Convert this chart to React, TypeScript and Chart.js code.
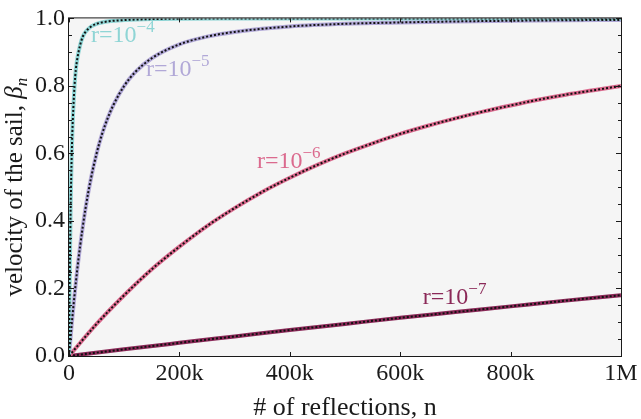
import React, { useEffect, useRef } from 'react';
import { Chart, registerables } from 'chart.js';

Chart.register(...registerables);

const FONT = "'Liberation Serif', 'Times New Roman', serif";

// Tick labels
const xTickLabels = ['0', '200k', '400k', '600k', '800k', '1M'];
const yTickLabels = ['0.0', '0.2', '0.4', '0.6', '0.8', '1.0'];

// r = 1e-4
const nR4 = [0, 1000, 2000, 3000, 4000, 5000, 6000, 8000, 10000, 12500, 15000, 20000, 25000, 30000, 40000, 50000, 75000, 100000, 150000, 200000, 300000, 500000, 1000000];
const betaR4 = [0, 0.18, 0.32, 0.44, 0.53, 0.6, 0.66, 0.74, 0.8, 0.85, 0.88, 0.92, 0.946, 0.96, 0.976, 0.984, 0.992, 0.995, 0.998, 0.999, 0.9995, 0.9998, 1.0];

// r = 1e-5
const nR5 = [0, 5000, 10000, 15000, 20000, 30000, 40000, 50000, 60000, 70000, 80000, 100000, 120000, 150000, 200000, 250000, 300000, 400000, 500000, 600000, 700000, 800000, 900000, 1000000];
const betaR5 = [0, 0.095, 0.18, 0.257, 0.324, 0.438, 0.528, 0.6, 0.658, 0.704, 0.742, 0.8, 0.841, 0.882, 0.923, 0.946, 0.96, 0.976, 0.984, 0.988, 0.991, 0.993, 0.9945, 0.9955];

// r = 1e-6
const nR6 = [0, 50000, 100000, 150000, 200000, 250000, 300000, 350000, 400000, 450000, 500000, 550000, 600000, 650000, 700000, 750000, 800000, 850000, 900000, 950000, 1000000];
const betaR6 = [0, 0.095, 0.18, 0.257, 0.324, 0.385, 0.438, 0.486, 0.528, 0.566, 0.6, 0.63, 0.658, 0.682, 0.704, 0.724, 0.742, 0.759, 0.774, 0.787, 0.8];

// r = 1e-7
const nR7 = [0, 100000, 200000, 300000, 400000, 500000, 600000, 700000, 800000, 900000, 1000000];
const betaR7 = [0, 0.0198, 0.039, 0.058, 0.077, 0.095, 0.113, 0.13, 0.147, 0.164, 0.18];

const seriesExp = ['−4', '−5', '−6', '−7'];
const seriesColors = ['#8fd5d5', '#b1a8d7', '#db6a8e', '#8b2958'];

// label anchors (data coordinates: n, beta)
const labelN = [40000, 139500, 340500, 641000];
const labelBeta = [0.929, 0.829, 0.556, 0.153];

function drawRich(ctx: CanvasRenderingContext2D, segs: { t: string; font: string; dy?: number }[], x: number, y: number, center: boolean) {
  let total = 0;
  for (const s of segs) {
    ctx.font = s.font;
    total += ctx.measureText(s.t).width;
  }
  let cx = center ? x - total / 2 : x;
  ctx.textAlign = 'left';
  ctx.textBaseline = 'alphabetic';
  for (const s of segs) {
    ctx.font = s.font;
    ctx.fillText(s.t, cx, y + (s.dy || 0));
    cx += ctx.measureText(s.t).width;
  }
}

const bgPlugin = {
  id: 'bg',
  beforeDraw(chart: any) {
    const { ctx, chartArea: a } = chart;
    ctx.save();
    ctx.fillStyle = '#ffffff';
    ctx.fillRect(0, 0, chart.width, chart.height);
    ctx.fillStyle = '#f5f5f5';
    ctx.fillRect(a.left, a.top, a.right - a.left, a.bottom - a.top);
    ctx.restore();
  },
};

const framePlugin = {
  id: 'frame',
  afterDatasetsDraw(chart: any) {
    const { ctx, chartArea: a, scales } = chart;
    const xs = scales.x, ys = scales.y;
    ctx.save();
    ctx.strokeStyle = '#1a1a1a';
    ctx.lineWidth = 1;
    ctx.strokeRect(a.left - 0.5, a.top - 0.5, a.right - a.left + 1, a.bottom - a.top + 1);
    ctx.beginPath();
    for (let v = 0; v <= 1000000; v += 200000) {
      const px = Math.round(xs.getPixelForValue(v)) + 0.5;
      ctx.moveTo(px, a.bottom);
      ctx.lineTo(px, a.bottom - 4);
      ctx.moveTo(px, a.top);
      ctx.lineTo(px, a.top + 4);
    }
    for (let i = 0; i <= 20; i++) {
      const v = i * 0.05;
      const py = Math.round(ys.getPixelForValue(v)) + 0.5;
      const len = i % 4 === 0 ? 5 : 3;
      ctx.moveTo(a.left, py);
      ctx.lineTo(a.left + len, py);
      ctx.moveTo(a.right, py);
      ctx.lineTo(a.right - len, py);
    }
    ctx.stroke();

    // curve labels
    for (let i = 0; i < 4; i++) {
      ctx.fillStyle = seriesColors[i];
      const px = xs.getPixelForValue(labelN[i]);
      const py = ys.getPixelForValue(labelBeta[i]);
      drawRich(ctx, [
        { t: 'r=10', font: `24px ${FONT}` },
        { t: seriesExp[i], font: `17px ${FONT}`, dy: -10 },
      ], px, py, false);
    }

    // axis titles
    ctx.fillStyle = '#1a1a1a';
    drawRich(ctx, [{ t: '# of reflections, n', font: `26px ${FONT}` }], (a.left + a.right) / 2, 415, true);

    ctx.save();
    ctx.translate(22, (a.top + a.bottom) / 2);
    ctx.rotate(-Math.PI / 2);
    drawRich(ctx, [
      { t: 'velocity of the sail, ', font: `25px ${FONT}` },
      { t: 'β', font: `italic 25px ${FONT}` },
      { t: 'n', font: `italic 17px ${FONT}`, dy: 5 },
    ], 0, 0, true);
    ctx.restore();
    ctx.restore();
  },
};

export default function App() {
  const ref = useRef<HTMLCanvasElement>(null);
  useEffect(() => {
    if (!ref.current) return;
    const curves = [
      { n: nR4, b: betaR4 },
      { n: nR5, b: betaR5 },
      { n: nR6, b: betaR6 },
      { n: nR7, b: betaR7 },
    ];
    const datasets: any[] = [];
    curves.forEach((c, i) => {
      const data = c.n.map((x, j) => ({ x, y: c.b[j] }));
      datasets.push({
        label: 'r=10' + seriesExp[i],
        data,
        borderColor: seriesColors[i],
        borderWidth: 4,
        pointRadius: 0,
        cubicInterpolationMode: 'monotone',
        order: 2,
      });
      datasets.push({
        label: 'r=10' + seriesExp[i] + ' (dotted)',
        data,
        borderColor: '#111111',
        borderWidth: 2,
        borderDash: [2, 2],
        pointRadius: 0,
        cubicInterpolationMode: 'monotone',
        order: 1,
      });
    });
    const chart = new Chart(ref.current, {
      type: 'line',
      data: { datasets },
      options: {
        animation: false,
        responsive: false,
        devicePixelRatio: 1,
        layout: { padding: { top: 16, right: 20, left: 0, bottom: 0 } },
        plugins: { legend: { display: false }, tooltip: { enabled: false } },
        scales: {
          x: {
            type: 'linear',
            min: 0,
            max: 1000000,
            grid: { display: false, drawTicks: false },
            border: { display: false },
            ticks: {
              stepSize: 200000,
              autoSkip: false,
              maxRotation: 0,
              padding: 3,
              color: '#1a1a1a',
              font: { family: FONT, size: 24 },
              callback: (v: any) => xTickLabels[Math.round(Number(v) / 200000)],
            },
            afterFit: (s: any) => { s.height = 63; },
          },
          y: {
            type: 'linear',
            min: 0,
            max: 1,
            grid: { display: false, drawTicks: false },
            border: { display: false },
            ticks: {
              stepSize: 0.2,
              padding: 4,
              color: '#1a1a1a',
              font: { family: FONT, size: 24 },
              callback: (v: any) => yTickLabels[Math.round(Number(v) / 0.2)],
            },
            afterFit: (s: any) => { s.width = 69; },
          },
        },
      },
      plugins: [bgPlugin, framePlugin],
    } as any);
    return () => chart.destroy();
  }, []);
  return (
    <div style={{ position: 'absolute', left: 0, top: 0, width: 641, height: 419 }}>
      <canvas ref={ref} width={641} height={419} style={{ display: 'block' }} />
    </div>
  );
}
